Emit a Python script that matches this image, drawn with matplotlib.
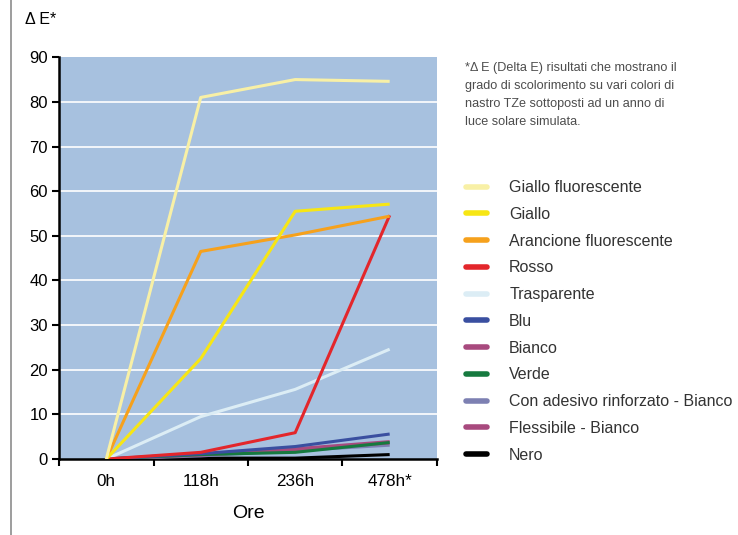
import matplotlib.pyplot as plt
from matplotlib.lines import Line2D

plt.rcParams['font.family'] = ['Liberation Sans', 'DejaVu Sans']

ore = ["0h", "118h", "236h", "478h*"]

serie = [
    "Giallo fluorescente", "Giallo", "Arancione fluorescente", "Rosso",
    "Trasparente", "Blu", "Bianco", "Verde",
    "Con adesivo rinforzato - Bianco", "Flessibile - Bianco", "Nero",
]
colori = [
    "#f8f0a6", "#f7e614", "#f6a11c", "#e3262b",
    "#dcedf5", "#3a4fa0", "#a84a7e", "#167a3f",
    "#7d80b2", "#a84a7e", "#000000",
]

giallo_fluo = [0, 81.0, 85.0, 84.6]
giallo = [0, 22.5, 55.5, 57.1]
arancione_fluo = [0, 46.5, 50.2, 54.4]
rosso = [0, 1.5, 5.9, 54.6]
trasparente = [0, 9.5, 15.6, 24.6]
blu = [0, 1.2, 2.8, 5.6]
bianco = [0, 1.0, 2.3, 3.9]
verde = [0, 1.0, 1.5, 3.7]
adesivo_rinf = [0, 0.7, 1.9, 3.1]
flessibile = [0, 0.9, 2.1, 3.6]
nero = [0, 0.2, 0.2, 1.0]

valori = [giallo_fluo, giallo, arancione_fluo, rosso, trasparente, blu,
          bianco, verde, adesivo_rinf, flessibile, nero]

# draw order: small ones first so the big lines sit on top
ordine = [10, 8, 9, 6, 7, 5, 4, 3, 2, 1, 0]

fig = plt.figure(figsize=(7.38, 5.35), dpi=100)
ax = fig.add_axes([0.080, 0.142, 0.512, 0.751])
ax.set_facecolor("#a7c1df")

x = list(range(len(ore)))
for i in ordine:
    ax.plot(x, valori[i], color=colori[i], lw=2.2, solid_capstyle="butt", zorder=3)

ax.set_xlim(-0.5, 3.5)
ax.set_ylim(0, 90)
ax.set_yticks(range(0, 91, 10))
ax.tick_params(axis="y", labelsize=12, width=1.5, length=5, direction="out", pad=3)
ax.set_xticks([-0.5, 0.5, 1.5, 2.5, 3.5])
ax.set_xticklabels([])
ax.set_xticks(x, minor=True)
ax.set_xticklabels(ore, minor=True)
ax.tick_params(axis="x", which="major", width=1.5, length=5, direction="out")
ax.tick_params(axis="x", which="minor", length=0, labelsize=12.3, pad=11)

for y in range(10, 90, 10):
    ax.axhline(y, color="white", lw=1.2, zorder=1)

for s in ["top", "right"]:
    ax.spines[s].set_visible(False)
ax.spines["left"].set_linewidth(1.8)
ax.spines["bottom"].set_linewidth(1.8)

ax.set_xlabel("Ore", fontsize=14, labelpad=11)
fig.text(0.034, 0.963, "Δ E*", fontsize=11.5, va="center", ha="left")

# grey vertical rule on the left
fig.add_artist(Line2D([0.0155, 0.0155], [0, 1], color="#8c8c8c", lw=1.2))

fig.text(0.630, 0.884,
         "*Δ E (Delta E) risultati che mostrano il\n"
         "grado di scolorimento su vari colori di\n"
         "nastro TZe sottoposti ad un anno di\n"
         "luce solare simulata.",
         fontsize=9.1, color="#4d4d4d", va="top", ha="left", linespacing=1.68)

maniglie = [Line2D([0], [0], color=c, lw=4, solid_capstyle="round") for c in colori]
fig.legend(maniglie, serie, loc="upper left", bbox_to_anchor=(0.612, 0.69),
           frameon=False, fontsize=11.5, handlelength=1.3, handletextpad=1.4,
           labelspacing=0.735, labelcolor="#333333")

fig.savefig("out.png", dpi=100)
